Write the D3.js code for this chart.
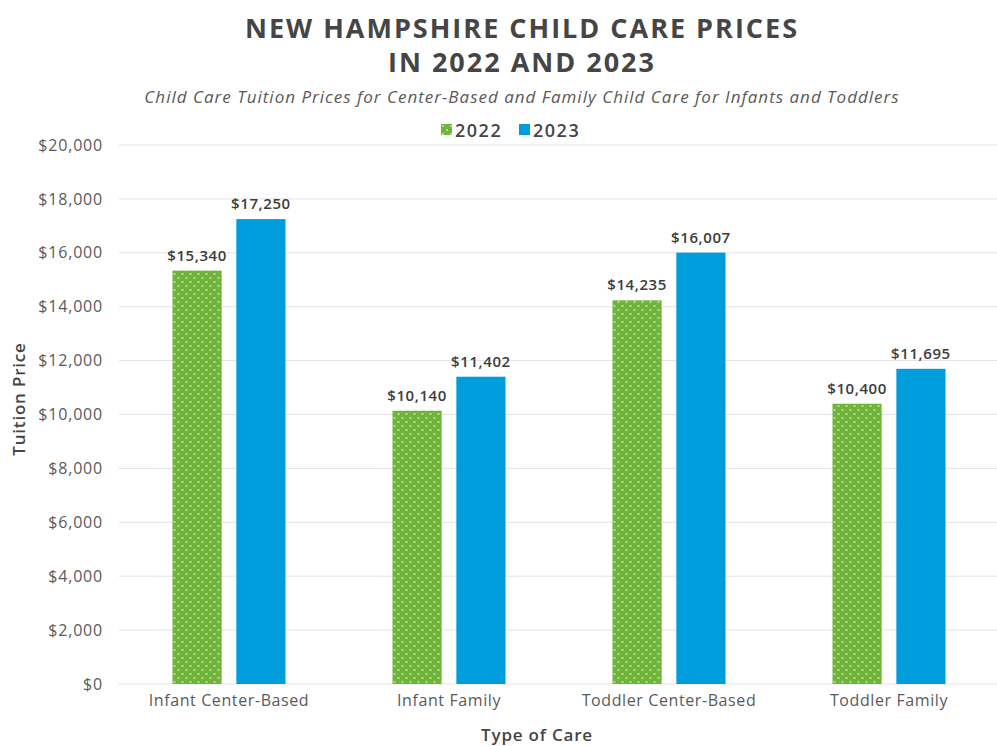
<!DOCTYPE html>
<html>
<head>
<meta charset="utf-8">
<script src="https://cdn.jsdelivr.net/npm/d3@7"></script>
<style>
  body { margin: 0; background: #fff; }
  svg { font-family: "Open Sans", sans-serif; }
</style>
</head>
<body>
<div id="chart"></div>
<script>
// data
const categories = ['Infant Center-Based', 'Infant Family', 'Toddler Center-Based', 'Toddler Family']
const years = ['2022', '2023']
const prices2022 = [15340, 10140, 14235, 10400]
const prices2023 = [17250, 11402, 16007, 11695]
const yTicks = [0, 2000, 4000, 6000, 8000, 10000, 12000, 14000, 16000, 18000, 20000]

const width = 997, height = 746
const margin = { top: 145, right: -2, bottom: 62, left: 119 }

const svg = d3.select('#chart').append('svg')
    .attr('width', width)
    .attr('height', height)

// dotted green fill
const defs = svg.append('defs')
const pat = defs.append('pattern')
    .attr('id', 'dots')
    .attr('patternUnits', 'userSpaceOnUse')
    .attr('width', 8).attr('height', 8)
pat.append('rect').attr('width', 8).attr('height', 8).attr('fill', '#70b33d')
pat.append('rect').attr('x', 1).attr('y', 1).attr('width', 2).attr('height', 2).attr('fill', '#b4df86')
pat.append('rect').attr('x', 5).attr('y', 5).attr('width', 2).attr('height', 2).attr('fill', '#b4df86')

const colors = { '2022': 'url(#dots)', '2023': '#009ddc' }

const x = d3.scaleBand()
    .domain(categories)
    .range([margin.left, width - margin.right])

const x1 = d3.scaleBand()
    .domain(years)
    .range([0, 113])
    .paddingInner(0.23)

const y = d3.scaleLinear()
    .domain([0, 20000])
    .range([height - margin.bottom, margin.top])

// gridlines
svg.append('g')
    .selectAll('line')
    .data(yTicks)
    .enter()
    .append('line')
    .attr('x1', margin.left)
    .attr('x2', width)
    .attr('y1', d => y(d))
    .attr('y2', d => y(d))
    .attr('stroke', '#e3e3e3')
    .attr('stroke-width', 1)

// y axis labels
const yAxis = svg.append('g')
    .attr('transform', 'translate(' + (margin.left - 13) + ',0)')
    .call(d3.axisLeft(y).tickValues(yTicks).tickSize(0).tickFormat(d => '$' + d3.format(',')(d)))
yAxis.select('.domain').remove()
yAxis.selectAll('text')
    .attr('font-size', 16)
    .attr('letter-spacing', 0.8)
    .attr('fill', '#5a5a5a')
    .attr('font-family', '"Open Sans", sans-serif')

// x axis labels
const xAxis = svg.append('g')
    .attr('transform', 'translate(0,' + (height - margin.bottom) + ')')
    .call(d3.axisBottom(x).tickSize(0).tickPadding(11))
xAxis.select('.domain').remove()
xAxis.selectAll('text')
    .attr('font-size', 16)
    .attr('letter-spacing', 0.6)
    .attr('fill', '#5a5a5a')
    .attr('font-family', '"Open Sans", sans-serif')

// bars
const rows = categories.map((c, i) => ({ cat: c, vals: [
    { year: '2022', v: prices2022[i] },
    { year: '2023', v: prices2023[i] }
] }))

const groups = svg.append('g')
    .selectAll('g')
    .data(rows)
    .enter()
    .append('g')
    .attr('transform', d => 'translate(' + (x(d.cat) + (x.bandwidth() - 113) / 2) + ',0)')

groups.selectAll('rect')
    .data(d => d.vals)
    .enter()
    .append('rect')
    .attr('x', d => x1(d.year))
    .attr('width', x1.bandwidth())
    .attr('y', d => y(d.v))
    .attr('height', d => y(0) - y(d.v))
    .attr('fill', d => colors[d.year])

groups.selectAll('text')
    .data(d => d.vals)
    .enter()
    .append('text')
    .attr('x', d => x1(d.year) + x1.bandwidth() / 2)
    .attr('y', d => y(d.v) - 10)
    .attr('text-anchor', 'middle')
    .attr('font-size', 15)
    .attr('font-weight', 600)
    .attr('letter-spacing', 0.6)
    .attr('fill', '#3c3c3c')
    .text(d => '$' + d3.format(',')(d.v))

// titles
const titleLines = ['NEW HAMPSHIRE CHILD CARE PRICES', 'IN 2022 AND 2023']
titleLines.forEach((t, i) => {
    svg.append('text')
        .attr('x', 522).attr('y', 38 + i * 34)
        .attr('text-anchor', 'middle')
        .attr('font-size', 27).attr('font-weight', 700)
        .attr('letter-spacing', 2)
        .attr('fill', '#454545')
        .text(t)
})
svg.append('text')
    .attr('x', 522).attr('y', 103)
    .attr('text-anchor', 'middle')
    .attr('font-size', 17).attr('font-style', 'italic')
    .attr('letter-spacing', 1)
    .attr('fill', '#595959')
    .text('Child Care Tuition Prices for Center-Based and Family Child Care for Infants and Toddlers')

// legend
const legend = svg.append('g').attr('transform', 'translate(441,124)')
const legItems = [{ year: '2022', x: 0 }, { year: '2023', x: 78 }]
legItems.forEach(item => {
    legend.append('rect')
        .attr('x', item.x).attr('y', 0)
        .attr('width', 11).attr('height', 11)
        .attr('fill', colors[item.year])
    legend.append('text')
        .attr('x', item.x + 14).attr('y', 13)
        .attr('font-size', 18).attr('font-weight', 600)
        .attr('letter-spacing', 1.5)
        .attr('fill', '#454545')
        .text(item.year)
})

// axis titles
svg.append('text')
    .attr('transform', 'translate(25,399) rotate(-90)')
    .attr('text-anchor', 'middle')
    .attr('font-size', 17).attr('font-weight', 600)
    .attr('letter-spacing', 0.8)
    .attr('fill', '#454545')
    .text('Tuition Price')
svg.append('text')
    .attr('x', 537).attr('y', 741)
    .attr('text-anchor', 'middle')
    .attr('font-size', 17).attr('font-weight', 600)
    .attr('letter-spacing', 0.8)
    .attr('fill', '#454545')
    .text('Type of Care')
</script>
</body>
</html>
